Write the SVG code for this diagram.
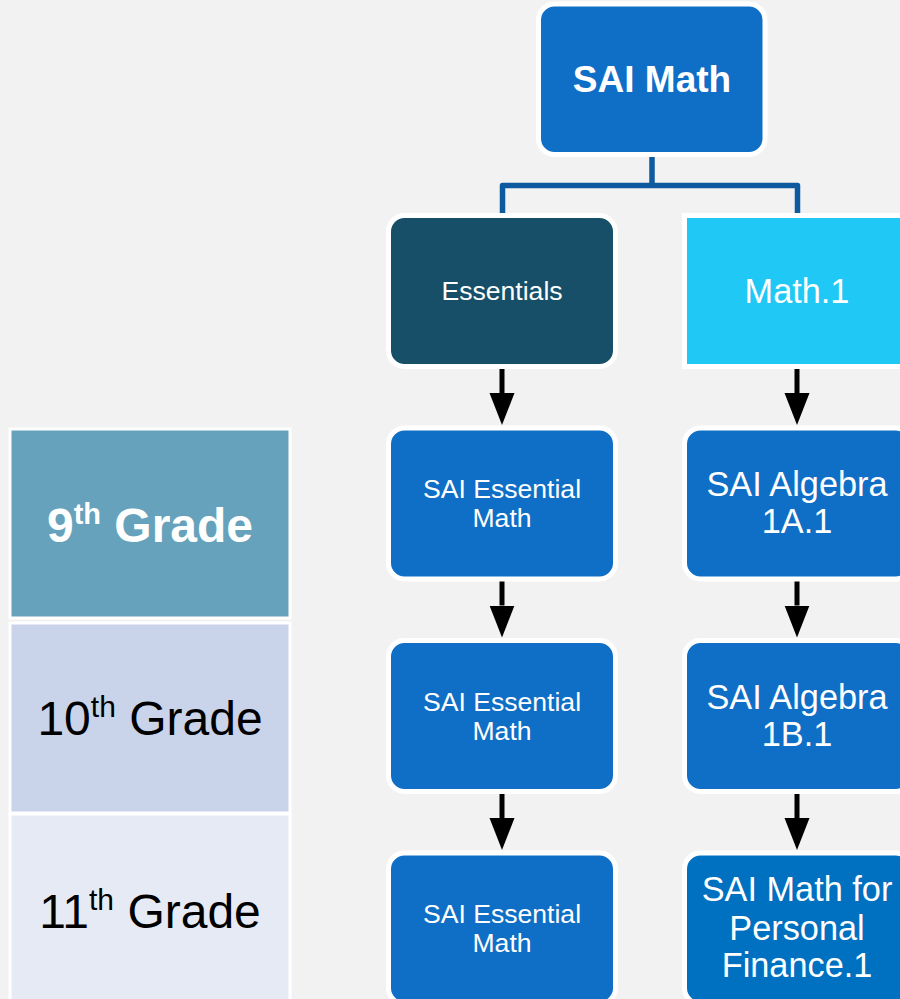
<svg xmlns="http://www.w3.org/2000/svg" width="900" height="999" viewBox="0 0 900 999">
  <style>
    .box { stroke: #ffffff; stroke-width: 5; }
    .blue { fill: #0f6ec6; }
    .t { font-family: "Liberation Sans", Arial, sans-serif; fill: #ffffff; text-anchor: middle; }
    .small { font-size: 26.6px; }
    .big { font-size: 34.3px; }
    .grade { font-family: "Liberation Sans", Arial, sans-serif; font-size: 48px; text-anchor: middle; }
    .cell { stroke: #ffffff; stroke-width: 3; }
    .arrow { stroke: #000000; stroke-width: 5; fill: none; marker-end: url(#head); }
  </style>
  <defs>
    <marker id="head" markerUnits="userSpaceOnUse" markerWidth="32" markerHeight="26" viewBox="0 0 32 26" refX="0" refY="13" orient="auto">
      <path d="M0,0.5 L32,13 L0,25.5 Z" fill="#000000"/>
    </marker>
  </defs>

  <rect width="900" height="999" fill="#f2f2f2"/>

  <!-- grade column -->
  <g id="grade9">
    <rect class="cell" x="10" y="429" width="280" height="189" fill="#66a2bb"/>
    <text class="grade" x="150" y="542" fill="#ffffff" font-weight="bold">9<tspan font-size="29" dy="-18">th</tspan><tspan dy="18"> Grade</tspan></text>
  </g>
  <g id="grade10">
    <rect class="cell" x="10" y="623" width="280" height="190" fill="#c9d3ea"/>
    <text class="grade" x="150" y="735" fill="#000000">10<tspan font-size="30" dy="-18">th</tspan><tspan dy="18"> Grade</tspan></text>
  </g>
  <g id="grade11">
    <rect class="cell" x="10" y="814" width="280" height="200" fill="#e6eaf5"/>
    <text class="grade" x="150" y="928" fill="#000000">11<tspan font-size="30" dy="-18">th</tspan><tspan dy="18"> Grade</tspan></text>
  </g>

  <!-- connectors -->
  <g id="connectors">
    <path d="M652,155 V185.5 M502.5,214 V185.5 H797.5 V214" fill="none" stroke="#0e5a9e" stroke-width="5.5" stroke-linejoin="round"/>
    <path class="arrow" d="M502,367 V393"/>
    <path class="arrow" d="M502,579.5 V605.5"/>
    <path class="arrow" d="M502,792 V818"/>
    <path class="arrow" d="M797,367 V393"/>
    <path class="arrow" d="M797,579.5 V605.5"/>
    <path class="arrow" d="M797,792 V818"/>
  </g>

  <!-- root -->
  <g id="sai-math">
    <rect class="box blue" x="538.5" y="4" width="226.5" height="150.5" rx="16"/>
    <text class="t" x="652" y="92" font-size="37" font-weight="bold">SAI Math</text>
  </g>

  <!-- essentials track -->
  <g id="essentials">
    <rect class="box" x="388.5" y="215.5" width="227" height="151" rx="16" fill="#164f67"/>
    <text class="t small" x="502" y="300">Essentials</text>
  </g>
  <g id="essential-math-9">
    <rect class="box blue" x="388.5" y="428" width="227" height="151" rx="16"/>
    <text class="t small" x="502" y="498">SAI Essential</text>
    <text class="t small" x="502" y="527">Math</text>
  </g>
  <g id="essential-math-10">
    <rect class="box blue" x="388.5" y="640.5" width="227" height="151" rx="16"/>
    <text class="t small" x="502" y="710.5">SAI Essential</text>
    <text class="t small" x="502" y="739.5">Math</text>
  </g>
  <g id="essential-math-11">
    <rect class="box blue" x="388.5" y="853" width="227" height="151" rx="16"/>
    <text class="t small" x="502" y="923">SAI Essential</text>
    <text class="t small" x="502" y="952">Math</text>
  </g>

  <!-- math.1 track -->
  <g id="math1">
    <rect class="box" x="684.5" y="215.5" width="227" height="151" fill="#20c9f5"/>
    <text class="t big" x="797" y="303">Math.1</text>
  </g>
  <g id="algebra-1a">
    <rect class="box blue" x="684.5" y="428" width="227" height="151" rx="16"/>
    <text class="t big" x="797" y="496">SAI Algebra</text>
    <text class="t big" x="797" y="533">1A.1</text>
  </g>
  <g id="algebra-1b">
    <rect class="box blue" x="684.5" y="640.5" width="227" height="151" rx="16"/>
    <text class="t big" x="797" y="708.5">SAI Algebra</text>
    <text class="t big" x="797" y="745.5">1B.1</text>
  </g>
  <g id="personal-finance">
    <rect class="box" x="684.5" y="853" width="227" height="151" rx="16" fill="#0070c0"/>
    <text class="t big" x="797" y="901">SAI Math for</text>
    <text class="t big" x="797" y="940">Personal</text>
    <text class="t big" x="797" y="977">Finance.1</text>
  </g>
</svg>
